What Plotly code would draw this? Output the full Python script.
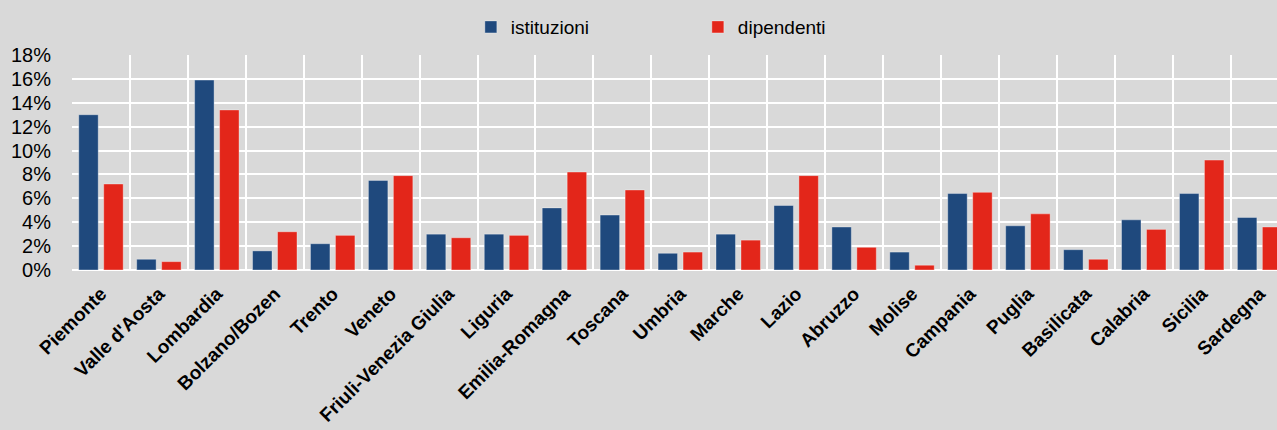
import plotly.graph_objects as go

REGIONS = [
    'Piemonte', "Valle d'Aosta", 'Lombardia', 'Bolzano/Bozen', 'Trento', 'Veneto',
    'Friuli-Venezia Giulia', 'Liguria', 'Emilia-Romagna', 'Toscana', 'Umbria', 'Marche',
    'Lazio', 'Abruzzo', 'Molise', 'Campania', 'Puglia', 'Basilicata', 'Calabria',
    'Sicilia', 'Sardegna',
]
ISTITUZIONI = [13.0, 0.9, 15.9, 1.6, 2.2, 7.5, 3.0, 3.0, 5.2, 4.6, 1.4, 3.0,
               5.4, 3.6, 1.5, 6.4, 3.7, 1.7, 4.2, 6.4, 4.4]
DIPENDENTI = [7.2, 0.7, 13.4, 3.2, 2.9, 7.9, 2.7, 2.9, 8.2, 6.7, 1.5, 2.5,
              7.9, 1.9, 0.4, 6.5, 4.7, 0.9, 3.4, 9.2, 3.6]
Y_TICKS = [0, 2, 4, 6, 8, 10, 12, 14, 16, 18]

BLUE = '#1f497d'
RED = '#e3261a'
BG = '#d9d9d9'
FONT = 'Liberation Sans, Arial, sans-serif'

fig = go.Figure()
fig.add_trace(go.Bar(x=REGIONS, y=ISTITUZIONI, name='istituzioni',
                     marker=dict(color=BLUE, line=dict(color='rgba(255,255,255,0.35)', width=1))))
fig.add_trace(go.Bar(x=REGIONS, y=DIPENDENTI, name='dipendenti',
                     marker=dict(color=RED, line=dict(color='rgba(255,255,255,0.35)', width=1))))

fig.update_layout(
    width=1277, height=430,
    margin=dict(l=72, r=0, t=55, b=160),
    paper_bgcolor=BG, plot_bgcolor=BG,
    font=dict(family=FONT, color='black'),
    barmode='group', bargap=0.138, bargroupgap=0.22,
    legend=dict(orientation='h', x=0.331, xanchor='left', y=1.13, yanchor='middle',
                font=dict(size=19), entrywidth=182, bgcolor='rgba(0,0,0,0)'),
    xaxis=dict(
        type='category', range=[-0.5, 20.3], tickson='boundaries',
        showgrid=True, gridcolor='white', gridwidth=1.5,
        tickangle=-45, tickfont=dict(size=19, family=FONT),
        tickvals=REGIONS, ticktext=[f'<b>{r}</b>' for r in REGIONS],
        ticks='', ticklabelstandoff=8,
    ),
    yaxis=dict(
        range=[0, 18], tickvals=Y_TICKS, ticktext=[f'{v}%' for v in Y_TICKS],
        showgrid=True, gridcolor='white', gridwidth=1.5,
        zeroline=True, zerolinecolor='white', zerolinewidth=1.5,
        tickfont=dict(size=20), ticklabelstandoff=20,
    ),
)

fig.write_html('out.html', config={'displayModeBar': False},
               post_script="document.body.style.margin='0';")
